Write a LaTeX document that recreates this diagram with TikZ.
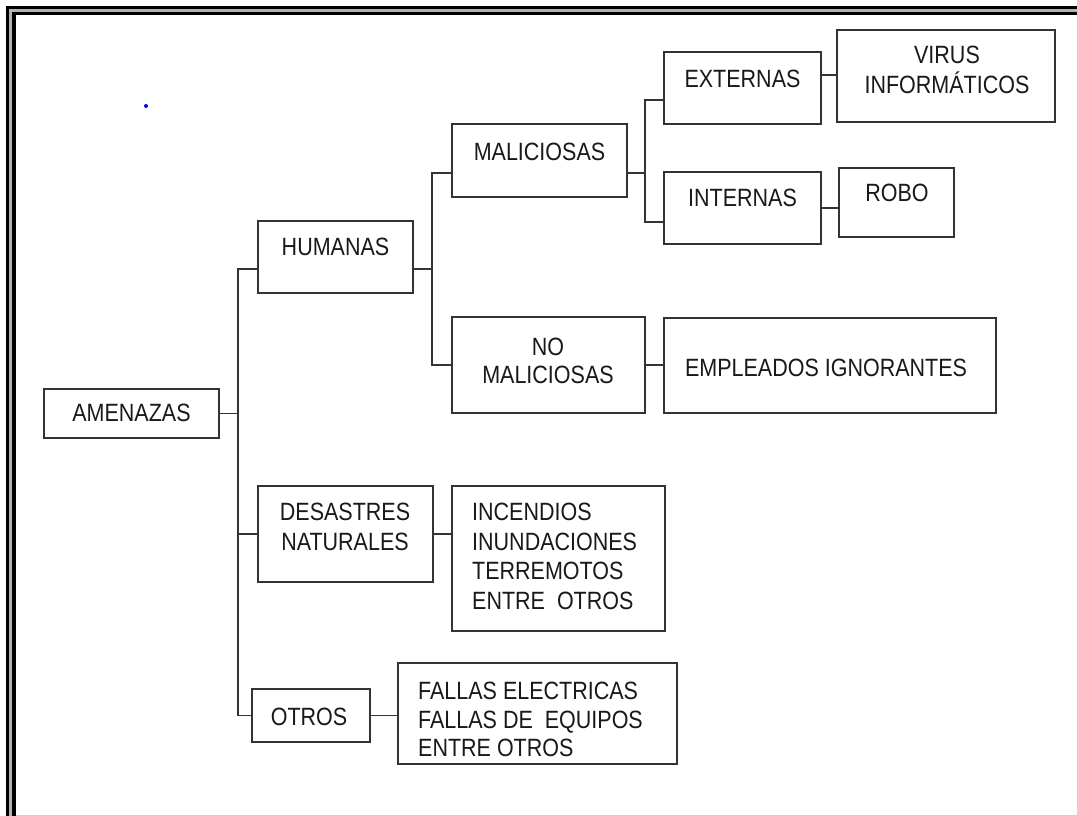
\documentclass[tikz,border=0pt]{standalone}
\usepackage{fontspec}
\setmainfont{Liberation Sans}[FakeStretch=0.86]
\tikzset{
  box/.style={draw=black!80, line width=1.7pt, inner sep=0pt, outer sep=0pt},
  link/.style={draw=black!80, line width=1.7pt},
  txt/.style={font=\fontsize{25}{29.5}\selectfont, text=black!90, inner sep=0pt, align=center},
  txtl/.style={txt, align=left, anchor=west}
}
\begin{document}
\begin{tikzpicture}[x=1pt,y=-1pt]
\useasboundingbox (0,0) rectangle (1077,816);
\fill[white] (0,0) rectangle (1077,816);
% window frame (top and left)
\fill[black] (6,6) rectangle (1077,9);
\fill[black!30] (9,9) rectangle (1077,12);
\fill[black] (12,12) rectangle (1077,15.5);
\fill[black] (6,6) rectangle (9,816);
\fill[black!30] (9,9) rectangle (12,816);
\fill[black] (12,12) rectangle (15.5,816);
\fill[black!18] (15.5,814.5) rectangle (1077,816);
% stray blue dot
\fill[blue] (146,106) circle (2);

% boxes
\node[box, minimum width=175pt, minimum height=49pt] (ame) at (131.5,413.5) {};
\node[box, minimum width=155pt, minimum height=72pt] (hum) at (335.5,257) {};
\node[box, minimum width=175pt, minimum height=96pt] (des) at (345.5,534) {};
\node[box, minimum width=118pt, minimum height=53pt] (otr) at (311,715.5) {};
\node[box, minimum width=175pt, minimum height=73pt] (mal) at (539.5,160.5) {};
\node[box, minimum width=193pt, minimum height=96pt] (nom) at (548.5,365) {};
\node[box, minimum width=157pt, minimum height=72pt] (ext) at (742.5,88) {};
\node[box, minimum width=157pt, minimum height=72pt] (int) at (742.5,208) {};
\node[box, minimum width=218pt, minimum height=92pt] (vir) at (946,76) {};
\node[box, minimum width=115pt, minimum height=69pt] (rob) at (896.5,202.5) {};
\node[box, minimum width=332pt, minimum height=95pt] (emp) at (830,365.5) {};
\node[box, minimum width=213pt, minimum height=145pt] (inc) at (558.5,558.5) {};
\node[box, minimum width=279pt, minimum height=101pt] (fal) at (537.5,713.5) {};

% texts
\node[txt] (tame) at (131.5,413) {AMENAZAS};
\node[txt] (thum) at (335.5,247) {HUMANAS};
\node[txt] (tmal) at (539.5,152) {MALICIOSAS};
\node[txt] (text) at (742.5,79) {EXTERNAS};
\node[txt] (tint) at (742.5,198) {INTERNAS};
\node[txt] (tvir) at (947,70) {VIRUS\\INFORMÁTICOS};
\node[txt] (trob) at (897,193) {ROBO};
\node[txt, font=\fontsize{25}{28}\selectfont] (tnom) at (548,361) {NO\\MALICIOSAS};
\node[txt] (temp) at (826,368) {EMPLEADOS IGNORANTES};
\node[txt] (tdes) at (345,527) {DESASTRES\\NATURALES};
\node[txtl] (tinc) at (472,556.5) {INCENDIOS\\INUNDACIONES\\TERREMOTOS\\ENTRE\ \ OTROS};
\node[txt] (totr) at (309,717) {OTROS};
\node[txtl, font=\fontsize{25}{28.5}\selectfont] (tfal) at (418,719.5) {FALLAS ELECTRICAS\\FALLAS DE\ \ EQUIPOS\\ENTRE OTROS};

% connectors
\coordinate (t1) at (238,0);
\coordinate (t2) at (432,0);
\coordinate (t3) at (645,0);
\coordinate (h1) at ([yshift=-12pt]hum.west);
\draw[link] (h1) -| (t1 |- otr.west) -- (otr.west);
\draw[link] (ame.east) -- (ame.east -| t1);
\draw[link] (des.west) -- (des.west -| t1);

\coordinate (m2) at ([yshift=-12.5pt]mal.west);
\draw[link] (m2) -| (t2 |- nom.west) -- (nom.west);
\coordinate (h2) at ([yshift=-12pt]hum.east);
\draw[link] (h2) -- (h2 -| t2);

\coordinate (e3) at ([yshift=-12pt]ext.west);
\coordinate (i3) at ([yshift=-14pt]int.west);
\draw[link] (e3) -| (t3 |- i3) -- (i3);
\coordinate (m3) at ([yshift=-12.5pt]mal.east);
\draw[link] (m3) -- (m3 -| t3);

\coordinate (ev) at ([yshift=13pt]ext.east);
\draw[link] (ev) -- (ev -| vir.west);
\draw[link] (int.east) -- (int.east -| rob.west);
\draw[link] (nom.east) -- (nom.east -| emp.west);
\draw[link] (des.east) -- (des.east -| inc.west);
\draw[link] (otr.east) -- (otr.east -| fal.west);
\end{tikzpicture}
\end{document}
